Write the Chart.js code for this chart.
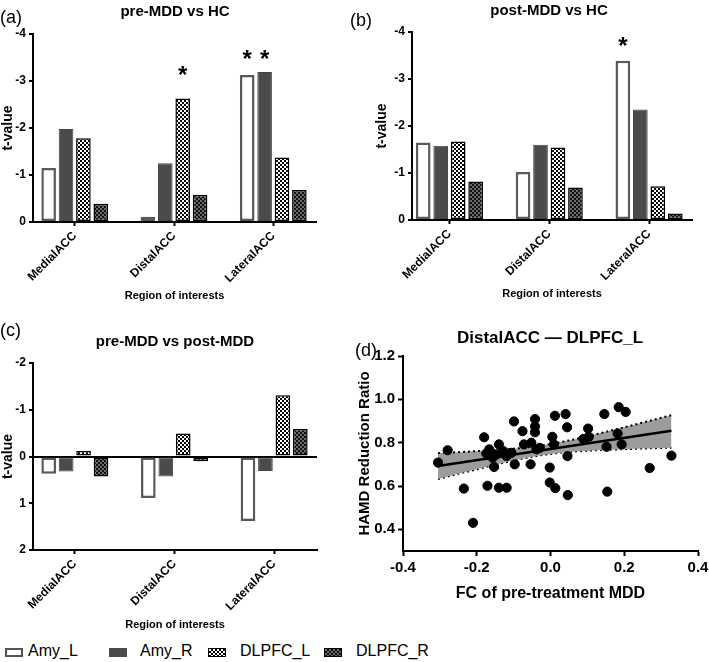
<!DOCTYPE html>
<html>
<head>
<meta charset="utf-8">
<script src="https://cdn.jsdelivr.net/npm/chart.js@4.4.0/dist/chart.umd.min.js"></script>
<style>
  html, body { margin: 0; padding: 0; background: #fff; overflow: hidden; }
  #page { position: relative; width: 709px; height: 662px; font-family: "Liberation Sans", Arial, sans-serif; color: #000; }
  canvas { position: absolute; }
  .tag { position: absolute; font-size: 18px; line-height: 1; }
  .ttl { position: absolute; font-weight: bold; line-height: 1; white-space: nowrap; transform: translateX(-50%); }
  .sw { position: absolute; top: 648px; width: 18px; height: 9px; box-sizing: border-box; }
  .lt { position: absolute; top: 643px; font-size: 16px; line-height: 1; white-space: nowrap; }
</style>
</head>
<body>
<div id="page">
  <canvas id="chartA" width="350" height="305" style="left:0;top:0"></canvas>
  <canvas id="chartB" width="359" height="303" style="left:350px;top:0"></canvas>
  <canvas id="chartC" width="350" height="324" style="left:0;top:310px"></canvas>
  <canvas id="chartD" width="362" height="295" style="left:350px;top:310px"></canvas>

  <div class="tag" style="left:0;top:8px">(a)</div>
  <div class="tag" style="left:350px;top:11px">(b)</div>
  <div class="tag" style="left:0;top:321px">(c)</div>
  <div class="tag" style="left:355px;top:341px">(d)</div>

  <div class="ttl" style="left:175px;top:3px;font-size:15px">pre-MDD vs HC</div>
  <div class="ttl" style="left:549px;top:2px;font-size:15px">post-MDD vs HC</div>
  <div class="ttl" style="left:175px;top:333px;font-size:15px">pre-MDD vs post-MDD</div>
  <div class="ttl" style="left:550px;top:329px;font-size:17px">DistalACC — DLPFC_L</div>

  <div class="sw" style="left:5px;background:#fff;border:2px solid #555"></div>
  <div class="lt" style="left:28px">Amy_L</div>
  <div class="sw" style="left:109px;background:#4b4b4b"></div>
  <div class="lt" style="left:140px">Amy_R</div>
  <div class="sw" style="left:208px;border:1px solid #000;background:repeating-conic-gradient(#000 0 25%, #fff 0 50%) 0 0/4px 4px"></div>
  <div class="lt" style="left:240px">DLPFC_L</div>
  <div class="sw" style="left:324px;border:1px solid #000;background:repeating-conic-gradient(#111 0 25%, #6a6a6a 0 50%) 0 0/4px 4px"></div>
  <div class="lt" style="left:356px">DLPFC_R</div>
</div>
<script>
const regions = ['MedialACC', 'DistalACC', 'LateralACC'];
const seriesNames = ['Amy_L', 'Amy_R', 'DLPFC_L', 'DLPFC_R'];

// (a) pre-MDD vs HC, t-values
const preHcAmyL = [-1.15, -0.11, -3.13];
const preHcAmyR = [-1.98, -1.25, -3.19];
const preHcDlpfcL = [-1.78, -2.63, -1.37];
const preHcDlpfcR = [-0.39, -0.58, -0.68];

// (b) post-MDD vs HC
const postHcAmyL = [-1.65, -1.02, -3.39];
const postHcAmyR = [-1.58, -1.60, -2.35];
const postHcDlpfcL = [-1.67, -1.54, -0.72];
const postHcDlpfcR = [-0.82, -0.69, -0.14];

// (c) pre-MDD vs post-MDD
const prePostAmyL = [0.37, 0.89, 1.38];
const prePostAmyR = [0.32, 0.43, 0.31];
const prePostDlpfcL = [-0.12, -0.49, -1.31];
const prePostDlpfcR = [0.43, 0.10, -0.59];

const hcTicks = [-4, -3, -2, -1, 0];
const prePostTicks = [-2, -1, 0, 1, 2];

// significance stars: [series, region, t-level where the star sits]
const starsA = [[2, 1, -3.25], [0, 2, -3.6], [1, 2, -3.6]];
const starsB = [[0, 2, -3.83]];

// (d) scatter: FC of pre-treatment MDD vs HAMD reduction ratio
const fcPre = [-0.305, -0.279, -0.235, -0.210, -0.180, -0.174, -0.171, -0.166, -0.157, -0.153,
  -0.146, -0.140, -0.140, -0.128, -0.119, -0.119, -0.106, -0.099, -0.097, -0.076,
  -0.072, -0.054, -0.052, -0.042, -0.042, -0.042, -0.038, -0.029, -0.002, -0.002,
  0.005, 0.009, 0.012, 0.013, 0.041, 0.045, 0.046, 0.047, 0.089, 0.104,
  0.102, 0.146, 0.152, 0.154, 0.185, 0.204, 0.182, 0.193, 0.269, 0.328];
const hamdRatio = [0.708, 0.765, 0.588, 0.430, 0.825, 0.750, 0.601, 0.769, 0.731, 0.688,
  0.746, 0.792, 0.592, 0.761, 0.592, 0.738, 0.753, 0.898, 0.700, 0.853,
  0.792, 0.700, 0.800, 0.909, 0.875, 0.848, 0.769, 0.776, 0.685, 0.616,
  0.827, 0.792, 0.924, 0.590, 0.932, 0.871, 0.738, 0.558, 0.817, 0.827,
  0.865, 0.932, 0.781, 0.574, 0.964, 0.942, 0.842, 0.792, 0.683, 0.740];
const fitX = [-0.305, 0.328];
const fitY = [0.692, 0.855];
const bandX = [-0.305, -0.25, -0.2, -0.15, -0.1, -0.05, 0, 0.05, 0.1, 0.15, 0.2, 0.25, 0.328];
const bandHi = [0.752, 0.756, 0.761, 0.766, 0.772, 0.781, 0.794, 0.810, 0.829, 0.850, 0.871, 0.893, 0.927];
const bandLo = [0.632, 0.656, 0.677, 0.698, 0.718, 0.735, 0.748, 0.757, 0.763, 0.767, 0.770, 0.773, 0.777];
const fcTicks = [-0.4, -0.2, 0, 0.2, 0.4];
const hamdTicks = [0.4, 0.6, 0.8, 1.0, 1.2];

Chart.defaults.font.family = '"Liberation Sans", Arial, sans-serif';
Chart.defaults.color = '#000';

function checker(base, squares) {
  const tile = document.createElement('canvas');
  tile.width = tile.height = 4;
  const g = tile.getContext('2d');
  g.fillStyle = base;
  g.fillRect(0, 0, 4, 4);
  g.fillStyle = squares;
  g.fillRect(0, 0, 2, 2);
  g.fillRect(2, 2, 2, 2);
  return g.createPattern(tile, 'repeat');
}

const barStyles = [
  { backgroundColor: '#fff', borderColor: '#5a5a5a', borderWidth: 2.5 },
  { backgroundColor: '#4b4b4b', borderColor: '#444', borderWidth: 1 },
  { backgroundColor: checker('#fff', '#000'), borderColor: '#000', borderWidth: 1.5 },
  { backgroundColor: checker('#111', '#6a6a6a'), borderColor: '#000', borderWidth: 1.5 }
];

function starPlugin(stars) {
  return {
    id: 'stars',
    afterDatasetsDraw(chart) {
      const ctx = chart.ctx;
      const y = chart.scales.y;
      ctx.save();
      ctx.font = 'bold 24px "Liberation Sans", Arial, sans-serif';
      ctx.textAlign = 'center';
      ctx.textBaseline = 'alphabetic';
      ctx.fillStyle = '#000';
      stars.forEach(([ds, cat, level]) => {
        const bar = chart.getDatasetMeta(ds).data[cat];
        ctx.fillText('*', bar.x, y.getPixelForValue(level) + 14);
      });
      ctx.restore();
    }
  };
}

function barPanel(id, series, yMin, yMax, yTicks, xMin, xMax, pad, yWidth, xHeight, stars, zeroLine) {
  const datasets = series.map((vals, i) => Object.assign({
    label: seriesNames[i],
    data: vals.map((v, k) => ({ x: k, y: v })),
    barPercentage: 0.84,
    categoryPercentage: 0.7,
    borderSkipped: false
  }, barStyles[i]));

  return new Chart(document.getElementById(id), {
    type: 'bar',
    data: { datasets },
    options: {
      responsive: false,
      animation: false,
      layout: { padding: pad },
      plugins: { legend: { display: false }, tooltip: { enabled: false } },
      scales: {
        x: {
          type: 'linear', min: xMin, max: xMax, offset: false, z: 1,
          afterBuildTicks: s => { s.ticks = regions.map((r, k) => ({ value: k })); },
          afterFit: s => { s.height = xHeight; },
          ticks: { callback: v => regions[v], minRotation: 45, maxRotation: 45, autoSkip: false,
                   font: { size: 12, weight: 'bold' }, padding: 3 },
          grid: { offset: false, drawOnChartArea: false, tickLength: 4, tickColor: '#000', tickWidth: 2 },
          border: { color: '#000', width: 2 },
          title: { display: true, text: 'Region of interests', font: { size: 11, weight: 'bold' },
                   padding: { top: 0, bottom: 2 } }
        },
        y: {
          type: 'linear', min: yMin, max: yMax, reverse: true, z: 1,
          afterBuildTicks: s => { s.ticks = yTicks.map(v => ({ value: v })); },
          afterFit: s => { s.width = yWidth; },
          ticks: { callback: v => String(v), font: { size: 12, weight: 'bold' }, padding: 3 },
          grid: {
            drawOnChartArea: zeroLine,
            color: c => (c.tick && c.tick.value === 0) ? '#000' : 'rgba(0,0,0,0)',
            lineWidth: 2, tickLength: 4, tickColor: '#000', tickWidth: 2
          },
          border: { color: '#000', width: 2 },
          title: { display: true, text: 't-value', font: { size: 14, weight: 'bold' },
                   padding: { top: 0, bottom: 0 } }
        }
      }
    },
    plugins: [starPlugin(stars)]
  });
}

barPanel('chartA', [preHcAmyL, preHcAmyR, preHcDlpfcL, preHcDlpfcR], -4, 0, hcTicks,
  -0.42, 2.43, { top: 34, left: 0, right: 34, bottom: 0 }, 33, 83, starsA, false);
barPanel('chartB', [postHcAmyL, postHcAmyR, postHcDlpfcL, postHcDlpfcR], -4, 0, hcTicks,
  -0.375, 2.43, { top: 32, left: 24, right: 17, bottom: 0 }, 38, 83, starsB, false);
barPanel('chartC', [prePostAmyL, prePostAmyR, prePostDlpfcL, prePostDlpfcR], -2, 2, prePostTicks,
  -0.42, 2.43, { top: 53, left: 0, right: 33, bottom: 0 }, 33, 84, [], true);

new Chart(document.getElementById('chartD'), {
  type: 'scatter',
  data: {
    datasets: [
      { data: fcPre.map((x, i) => ({ x, y: hamdRatio[i] })), backgroundColor: '#000', borderColor: '#000',
        pointRadius: 4.6, order: 0 },
      { type: 'line', data: fitX.map((x, i) => ({ x, y: fitY[i] })), borderColor: '#000', borderWidth: 2.5,
        pointRadius: 0, showLine: true, fill: false, order: 1 },
      { type: 'line', data: bandX.map((x, i) => ({ x, y: bandHi[i] })), borderColor: '#000', borderWidth: 2,
        borderDash: [2, 3], pointRadius: 0, showLine: true, cubicInterpolationMode: 'monotone',
        fill: '+1', backgroundColor: '#9c9c9c', order: 2 },
      { type: 'line', data: bandX.map((x, i) => ({ x, y: bandLo[i] })), borderColor: '#000', borderWidth: 2,
        borderDash: [2, 3], pointRadius: 0, showLine: true, cubicInterpolationMode: 'monotone',
        fill: false, order: 3 }
    ]
  },
  options: {
    responsive: false,
    animation: false,
    layout: { padding: { top: 46, left: 6, right: 14, bottom: 0 } },
    plugins: { legend: { display: false }, tooltip: { enabled: false } },
    scales: {
      x: {
        type: 'linear', min: -0.4, max: 0.4,
        afterBuildTicks: s => { s.ticks = fcTicks.map(v => ({ value: v })); },
        afterFit: s => { s.height = 54; },
        ticks: { callback: v => v.toFixed(1), font: { size: 15, weight: 'bold' }, padding: 3 },
        grid: { drawOnChartArea: false, tickLength: 5, tickColor: '#000', tickWidth: 2 },
        border: { color: '#000', width: 2 },
        title: { display: true, text: 'FC of pre-treatment MDD', font: { size: 16, weight: 'bold' },
                 padding: { top: 0, bottom: 2 } }
      },
      y: {
        type: 'linear', min: 0.3, max: 1.2,
        afterBuildTicks: s => { s.ticks = hamdTicks.map(v => ({ value: v })); },
        afterFit: s => { s.width = 47; },
        ticks: { callback: v => v.toFixed(1), font: { size: 15, weight: 'bold' }, padding: 3 },
        grid: { drawOnChartArea: false, tickLength: 5, tickColor: '#000', tickWidth: 2 },
        border: { color: '#000', width: 2 },
        title: { display: true, text: 'HAMD Reduction Ratio', font: { size: 15, weight: 'bold' },
                 padding: { top: 0, bottom: 0 } }
      }
    }
  }
});
</script>
</body>
</html>
